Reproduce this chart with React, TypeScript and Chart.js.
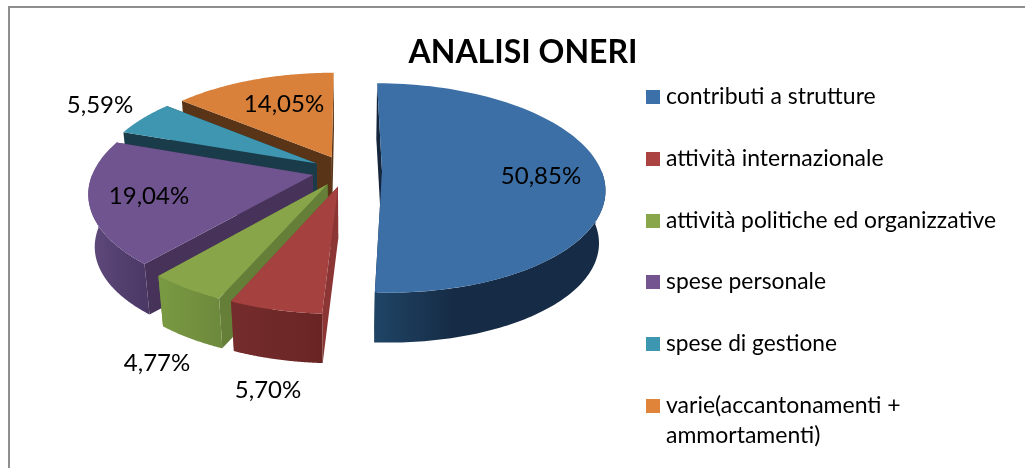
import React, { useEffect, useRef } from "react";
import { Chart, registerables } from "chart.js";

Chart.register(...registerables);

const chartTitle = "ANALISI ONERI";
const categories = [
  "contributi a strutture",
  "attività internazionale",
  "attività politiche ed organizzative",
  "spese personale",
  "spese di gestione",
  "varie(accantonamenti + ammortamenti)",
];
const shares = [50.85, 5.7, 4.77, 19.04, 5.59, 14.05];
const explode = [36, 34, 34, 34, 34, 34];

const topColors = ["#3c6fa6", "#a54240", "#88a54a", "#6f5490", "#3e96b0", "#d9813a"];
const swatchColors = ["#3b70a8", "#ab4343", "#8aa64b", "#75558f", "#3e97b0", "#e0843a"];
const cutColors = ["#14253c", "#8b3635", "#657e38", "#47335a", "#1a3c4a", "#5a3416"];
const wallLeft = ["#1f4566", "#752c2c", "#7a9a42", "#5f4a7c", "#2a6b80", "#9a5a28"];
const wallRight = ["#162b45", "#692524", "#6d893c", "#4a3764", "#1f5365", "#84491f"];

// layout of the texts
const labelAnchors = [[541, 176], [268, 390], [157, 363], [149, 196], [100, 105], [284, 104]];
const legendRows = [97, 159, 221, 282, 344, 406];
const legendLines = [
  ["contributi a strutture"],
  ["attività internazionale"],
  ["attività politiche ed organizzative"],
  ["spese personale"],
  ["spese di gestione"],
  ["varie(accantonamenti +", "ammortamenti)"],
];
const legendWidths = [[210], [218], [330], [160], [171], [236, 157]];

// projection of the pie plane
const PLANE_R = 224;
const WIDTH_FACTOR = 0.98;
const TILT = 0.455;
const PERSPECTIVE = 0.000705;
const DEPTH = 53;
const FLOOR_SCALE = 0.975;
const FONT = "Lato";

const pie3d = {
  id: "pie3d",
  beforeDatasetsDraw(chart: any) {
    const ctx = chart.ctx;
    const arcs = chart.getDatasetMeta(0).data;
    const project = (cx: number, cy: number, X: number, Y: number, floor: boolean) => {
      const s = 1 / (1 - PERSPECTIVE * Y);
      const b = floor ? FLOOR_SCALE : 1;
      return [cx + X * s * b, cy + (floor ? DEPTH : 0) + TILT * Y * s * b];
    };
    const order = [5, 4, 3, 0, 2, 1];
    for (const i of order) {
      const el = arcs[i];
      const { x: cx, y: cy, startAngle, endAngle } = el;
      const off = el.options.offset || 0;
      const mid = (startAngle + endAngle) / 2;
      const ox = Math.cos(mid) * off;
      const oy = Math.sin(mid) * off;
      const pt = (a: number, r: number, floor: boolean) =>
        project(cx, cy, ox + Math.cos(a) * r * WIDTH_FACTOR, oy + Math.sin(a) * r, floor);
      const steps = 90;
      const arcPts = (a0: number, a1: number, floor: boolean) => {
        const out: number[][] = [];
        for (let k = 0; k <= steps; k++) out.push(pt(a0 + ((a1 - a0) * k) / steps, PLANE_R, floor));
        return out;
      };
      const fill = (pts: number[][], style: any) => {
        ctx.beginPath();
        pts.forEach((p, n) => (n ? ctx.lineTo(p[0], p[1]) : ctx.moveTo(p[0], p[1])));
        ctx.closePath();
        ctx.fillStyle = style;
        ctx.fill();
      };
      // cut faces
      for (const a of [startAngle, endAngle]) {
        fill([pt(a, 0, false), pt(a, PLANE_R, false), pt(a, PLANE_R, true), pt(a, 0, true)], cutColors[i]);
      }
      // outer wall: only the part turned to the viewer
      const a0 = Math.max(startAngle, 0);
      const a1 = Math.min(endAngle, Math.PI);
      if (a1 > a0) {
        const upper = arcPts(a0, a1, false);
        const lower = arcPts(a0, a1, true);
        const xs = upper.concat(lower).map((p) => p[0]);
        const g = ctx.createLinearGradient(Math.min(...xs), 0, Math.max(...xs), 0);
        g.addColorStop(0, wallLeft[i]);
        g.addColorStop(i === 0 ? 0.35 : 1, wallRight[i]);
        g.addColorStop(1, wallRight[i]);
        fill(upper.concat(lower.reverse()), g);
      }
      // upper face
      fill([pt(0, 0, false), ...arcPts(startAngle, endAngle, false)], topColors[i]);
    }
    return false;
  },
  afterDraw(chart: any) {
    const ctx = chart.ctx;
    ctx.save();
    // frame
    ctx.fillStyle = "#8e8e8e";
    ctx.fillRect(8, 6, 1017, 2);
    ctx.fillRect(8, 6, 2, 462);
    ctx.textBaseline = "middle";
    // title
    ctx.fillStyle = "#000";
    ctx.textAlign = "center";
    ctx.font = `bold 32px ${FONT}`;
    ctx.fillText(chartTitle, 523, 53);
    // value labels
    ctx.font = `24px ${FONT}`;
    chart.data.datasets[0].data.forEach((v: number, i: number) => {
      ctx.fillText(v.toFixed(2).replace(".", ",") + "%", labelAnchors[i][0], labelAnchors[i][1]);
    });
    // legend
    ctx.textAlign = "left";
    ctx.font = `23px ${FONT}`;
    legendRows.forEach((y, i) => {
      ctx.fillStyle = swatchColors[i];
      ctx.fillRect(646, y - 7, 14, 14);
      ctx.fillStyle = "#000";
      legendLines[i].forEach((line, n) => ctx.fillText(line, 666, y + n * 30, legendWidths[i][n]));
    });
    ctx.restore();
  },
};

export default function App() {
  const ref = useRef<HTMLCanvasElement>(null);
  useEffect(() => {
    const chart = new Chart(ref.current as HTMLCanvasElement, {
      type: "pie",
      data: {
        labels: categories,
        datasets: [{ data: shares, backgroundColor: topColors, offset: explode, borderWidth: 0 }],
      },
      options: {
        animation: false,
        responsive: false,
        events: [],
        layout: { padding: { left: 196, right: 529, top: 21, bottom: 147 } },
        plugins: { legend: { display: false }, tooltip: { enabled: false } },
      },
      plugins: [pie3d],
    } as any);
    return () => chart.destroy();
  }, []);
  return (
    <div style={{ position: "absolute", left: 0, top: 0, width: 1025, height: 468, background: "#fff" }}>
      <canvas ref={ref} width={1025} height={468} style={{ display: "block" }} />
    </div>
  );
}
